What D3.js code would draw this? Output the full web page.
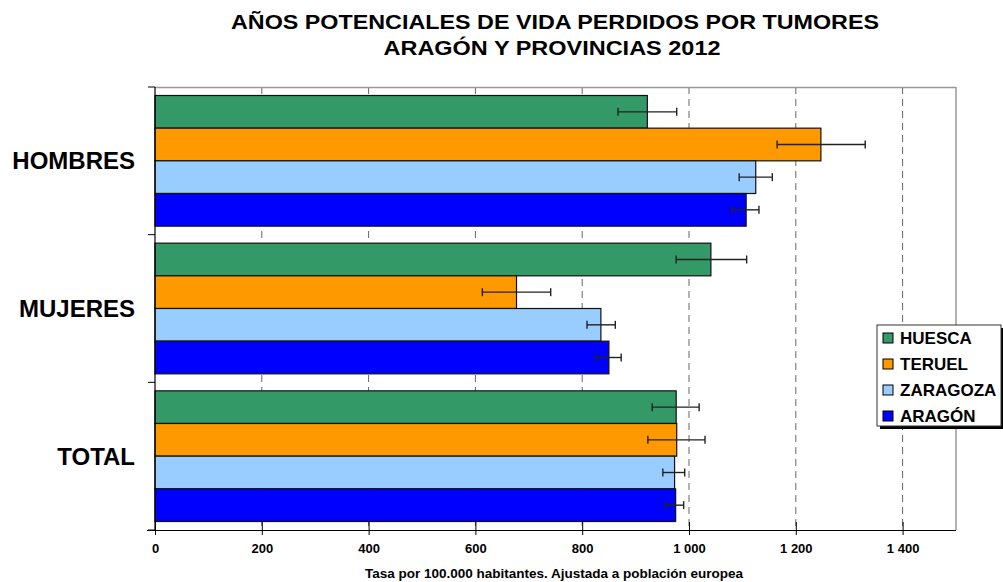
<!DOCTYPE html>
<html>
<head>
<meta charset="UTF-8">
<script src="https://d3js.org/d3.v7.min.js"></script>
<style>
  body { margin: 0; background: #fff; }
  text { font-family: Arial, "Liberation Sans", sans-serif; font-weight: bold; fill: #000; }
</style>
</head>
<body>
<div id="chart"></div>
<script>
// categories and series
var categories = ["HOMBRES", "MUJERES", "TOTAL"];
var series = ["HUESCA", "TERUEL", "ZARAGOZA", "ARAGÓN"];
var colors = ["#339966", "#FF9900", "#99CCFF", "#0000FF"];

// rate per 100.000, one array per province (HOMBRES, MUJERES, TOTAL)
var huesca   = [922, 1041, 976];
var teruel   = [1247, 677, 977];
var zaragoza = [1125, 835, 973];
var aragon   = [1107, 850, 975];

// confidence interval limits
var huescaLow   = [867, 976, 931];
var huescaHigh  = [977, 1108, 1019];
var teruelLow   = [1165, 613, 923];
var teruelHigh  = [1330, 741, 1030];
var zaragozaLow = [1094, 809, 951];
var zaragozaHigh= [1156, 862, 992];
var aragonLow   = [1080, 826, 956];
var aragonHigh  = [1131, 873, 990];

var xTicks = [0, 200, 400, 600, 800, 1000, 1200, 1400];

var values = [huesca, teruel, zaragoza, aragon];
var lows = [huescaLow, teruelLow, zaragozaLow, aragonLow];
var highs = [huescaHigh, teruelHigh, zaragozaHigh, aragonHigh];

var rows = [];
categories.forEach(function(c, ci) {
  series.forEach(function(s, si) {
    rows.push({cat: c, ser: s, color: colors[si], v: values[si][ci], lo: lows[si][ci], hi: highs[si][ci]});
  });
});

var W = 1003, H = 582;
var plotL = 155, plotR = 956, plotT = 87, plotB = 530;

var svg = d3.select("#chart").append("svg")
  .attr("width", W).attr("height", H);

var x = d3.scaleLinear().domain([0, 1500]).range([plotL, plotR]);
var y0 = d3.scaleBand().domain(categories).range([plotT, plotB]).padding(0);
var y1 = d3.scaleBand().domain(series).range([0, y0.bandwidth()]).paddingInner(0).paddingOuter(0.26);

// title
svg.append("text").attr("x", 555).attr("y", 29).attr("text-anchor", "middle")
  .attr("textLength", 648).attr("lengthAdjust", "spacingAndGlyphs")
  .style("font-size", "20px").text("AÑOS POTENCIALES DE VIDA PERDIDOS POR TUMORES");
svg.append("text").attr("x", 552).attr("y", 55).attr("text-anchor", "middle")
  .attr("textLength", 337).attr("lengthAdjust", "spacingAndGlyphs")
  .style("font-size", "20px").text("ARAGÓN Y PROVINCIAS 2012");

// gridlines (dashed)
svg.append("g").selectAll("line")
  .data(xTicks.filter(function(d) { return d > 0; }))
  .enter().append("line")
    .attr("x1", function(d) { return x(d); })
    .attr("x2", function(d) { return x(d); })
    .attr("y1", plotT).attr("y2", plotB)
    .attr("stroke", "#666").attr("stroke-width", 1)
    .attr("stroke-dasharray", "7,5");

// plot border top & right
svg.append("line").attr("x1", plotL).attr("x2", plotR).attr("y1", plotT + 0.5).attr("y2", plotT + 0.5)
  .attr("stroke", "#999").attr("stroke-width", 1.5);
svg.append("line").attr("x1", plotR).attr("x2", plotR).attr("y1", plotT).attr("y2", plotB)
  .attr("stroke", "#999").attr("stroke-width", 1.5);

// bars
svg.append("g").selectAll("rect")
  .data(rows)
  .enter().append("rect")
    .attr("x", x(0))
    .attr("y", function(d) { return y0(d.cat) + y1(d.ser); })
    .attr("width", function(d) { return x(d.v) - x(0); })
    .attr("height", y1.bandwidth())
    .attr("fill", function(d) { return d.color; })
    .attr("stroke", "#111").attr("stroke-width", 1.2);

// error bars
function midY(d) { return y0(d.cat) + y1(d.ser) + y1.bandwidth() / 2; }
var eb = svg.append("g").selectAll("g").data(rows).enter().append("g")
  .attr("stroke", "#222").attr("stroke-width", 1.4);
eb.append("line")
  .attr("x1", function(d) { return x(d.lo); })
  .attr("x2", function(d) { return x(d.hi); })
  .attr("y1", midY).attr("y2", midY);
eb.append("line")
  .attr("x1", function(d) { return x(d.lo); })
  .attr("x2", function(d) { return x(d.lo); })
  .attr("y1", function(d) { return midY(d) - 4; })
  .attr("y2", function(d) { return midY(d) + 4; });
eb.append("line")
  .attr("x1", function(d) { return x(d.hi); })
  .attr("x2", function(d) { return x(d.hi); })
  .attr("y1", function(d) { return midY(d) - 4; })
  .attr("y2", function(d) { return midY(d) + 4; });

// x axis
var xAxis = svg.append("g")
  .attr("transform", "translate(0," + plotB + ")")
  .call(d3.axisBottom(x).tickValues(xTicks).tickSizeInner(5).tickSizeOuter(0)
    .tickPadding(9).tickFormat(function(d) { return d3.format(",")(d).replace(",", " "); }));
xAxis.select(".domain").attr("d", "M" + (plotL - 8) + ",0.5H" + plotR).attr("stroke", "#000").attr("stroke-width", 1.2);
xAxis.selectAll(".tick line").attr("y1", -8).attr("stroke", "#000");
xAxis.selectAll("text").style("font-size", "13px").style("font-family", "Arial, 'Liberation Sans', sans-serif")
  .style("font-weight", "bold").attr("fill", "#000");

svg.append("text").attr("x", 554).attr("y", 578).attr("text-anchor", "middle")
  .attr("textLength", 378).attr("lengthAdjust", "spacingAndGlyphs")
  .style("font-size", "12.5px").text("Tasa por 100.000 habitantes. Ajustada a población europea");

// y axis
svg.append("line").attr("x1", plotL).attr("x2", plotL).attr("y1", plotT).attr("y2", plotB)
  .attr("stroke", "#000").attr("stroke-width", 1.2);
svg.append("g").selectAll("line")
  .data([plotT, y0("MUJERES"), y0("TOTAL"), plotB])
  .enter().append("line")
    .attr("x1", plotL - 7).attr("x2", plotL)
    .attr("y1", function(d) { return d; }).attr("y2", function(d) { return d; })
    .attr("stroke", "#000");

svg.append("g").selectAll("text")
  .data(categories)
  .enter().append("text")
    .attr("x", 135)
    .attr("y", function(d) { return y0(d) + y0.bandwidth() / 2; })
    .attr("dy", "0.36em")
    .attr("text-anchor", "end")
    .style("font-size", "24px")
    .text(function(d) { return d; });

// legend
var lg = svg.append("g").attr("transform", "translate(877,325)");
lg.append("rect").attr("x", 3).attr("y", 3).attr("width", 124).attr("height", 101).attr("fill", "#000");
lg.append("rect").attr("x", 0).attr("y", 0).attr("width", 124).attr("height", 101)
  .attr("fill", "#fff").attr("stroke", "#333").attr("stroke-width", 1);
var item = lg.selectAll("g.item").data(series).enter().append("g")
  .attr("class", "item")
  .attr("transform", function(d, i) { return "translate(6," + (13 + i * 26) + ")"; });
item.append("rect").attr("x", 0).attr("y", -5).attr("width", 10).attr("height", 10)
  .attr("fill", function(d, i) { return colors[i]; }).attr("stroke", "#000");
item.append("text").attr("x", 17).attr("dy", "0.36em").style("font-size", "17px")
  .text(function(d) { return d; });
</script>
</body>
</html>
